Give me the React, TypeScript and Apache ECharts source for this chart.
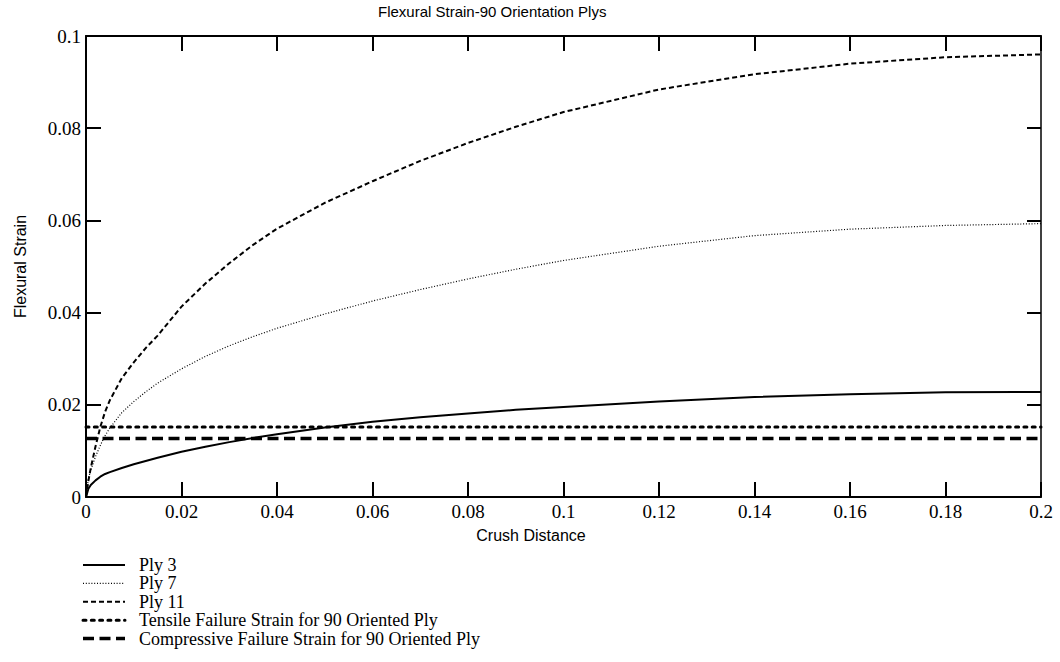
import React, { useEffect, useRef } from "react";
import * as echarts from "echarts";

const crushDistance = [0, 0.0005, 0.001, 0.002, 0.003, 0.004, 0.005, 0.0075, 0.01, 0.0125, 0.015, 0.02, 0.025, 0.03, 0.035, 0.04, 0.05, 0.06, 0.07, 0.08, 0.09, 0.1, 0.12, 0.14, 0.16, 0.18, 0.2];
const ply3 = [0, 0.0018, 0.0026, 0.0036, 0.0044, 0.005, 0.0054, 0.0063, 0.0071, 0.0078, 0.0085, 0.0098, 0.0109, 0.0119, 0.0128, 0.0136, 0.0151, 0.0163, 0.0173, 0.0181, 0.0189, 0.0195, 0.0207, 0.0217, 0.0223, 0.0227, 0.0228];
const ply7 = [0, 0.004, 0.0058, 0.0088, 0.0112, 0.0133, 0.015, 0.0183, 0.0207, 0.0228, 0.0247, 0.0278, 0.0305, 0.0328, 0.0348, 0.0366, 0.0397, 0.0425, 0.045, 0.0473, 0.0494, 0.0513, 0.0544, 0.0567, 0.0581, 0.0589, 0.0593];
const ply11 = [0, 0.0035, 0.0063, 0.011, 0.0152, 0.0185, 0.021, 0.0258, 0.0292, 0.0323, 0.035, 0.0413, 0.0463, 0.0507, 0.0547, 0.0582, 0.0638, 0.0685, 0.0729, 0.0768, 0.0803, 0.0835, 0.0884, 0.0917, 0.094, 0.0954, 0.096];
const tensileFailure = 0.0152;
const compressiveFailure = 0.0127;
const xRange = [0, 0.2];

const titleText = "Flexural Strain-90 Orientation Plys";
const xName = "Crush Distance";
const yName = "Flexural Strain";
const legendLabels = [
  "Ply 3",
  "Ply 7",
  "Ply 11",
  "Tensile Failure Strain for 90 Oriented Ply",
  "Compressive Failure Strain for 90 Oriented Ply",
];

const SERIF = "'Liberation Serif', 'Times New Roman', serif";
const SANS = "'Liberation Sans', Arial, sans-serif";

const styles = [
  { width: 2, type: "solid" as any },
  { width: 1.2, type: [1, 1.8] as any },
  { width: 2, type: [5, 3] as any },
  { width: 3, type: [3, 5.3] as any, cap: "round" },
  { width: 3.5, type: [11, 5.5] as any },
];

const fmt = (v: number) => String(parseFloat(v.toFixed(3)));

export default function App() {
  const ref = useRef<HTMLDivElement>(null);
  useEffect(() => {
    const chart = echarts.init(ref.current!, null, { renderer: "svg" });
    const zip = (ys: number[]) => crushDistance.map((x, i) => [x, ys[i]]);
    const curves = [ply3, ply7, ply11];
    const flats = [tensileFailure, compressiveFailure];

    const axisCommon = {
      type: "value" as const,
      axisLine: { show: true, onZero: false, lineStyle: { color: "#000", width: 2 } },
      axisTick: { show: true, inside: true, length: 15, lineStyle: { color: "#000", width: 2 } },
      splitLine: { show: false },
    };

    const series: any[] = [];
    curves.forEach((ys, i) => {
      series.push({
        name: legendLabels[i],
        type: "line",
        data: zip(ys),
        showSymbol: false,
        smooth: false,
        lineStyle: { color: "#000", width: styles[i].width, type: styles[i].type, join: "round" },
        z: 3,
      });
    });
    flats.forEach((v, j) => {
      const i = j + 3;
      series.push({
        name: legendLabels[i],
        type: "line",
        data: xRange.map((x) => [x, v]),
        showSymbol: false,
        lineStyle: { color: "#000", width: styles[i].width, type: styles[i].type, cap: (styles[i] as any).cap || "butt" },
        z: 2,
      });
    });

    const legendTop = 565;
    const legendStep = 18.4;
    const graphic: any[] = [
      {
        type: "text",
        left: 378,
        top: 4,
        style: { text: titleText, fill: "#000", font: `15px ${SANS}` },
      },
      {
        type: "text",
        x: 531,
        y: 535,
        style: { text: xName, fill: "#000", font: `16px ${SANS}`, align: "center", verticalAlign: "middle" },
      },
    ];
    legendLabels.forEach((label, i) => {
      const y = legendTop + i * legendStep;
      graphic.push({
        type: "line",
        shape: { x1: 83, y1: y, x2: 125, y2: y },
        style: {
          stroke: "#000",
          lineWidth: styles[i].width,
          lineDash: styles[i].type === "solid" ? null : styles[i].type,
          lineCap: (styles[i] as any).cap || "butt",
        },
      });
      graphic.push({
        type: "text",
        x: 139,
        y: y,
        style: { text: label, fill: "#000", font: `18px ${SERIF}`, verticalAlign: "middle", align: "left" },
      });
    });

    chart.setOption({
      animation: false,
      backgroundColor: "#fff",
      grid: { left: 86, top: 36, width: 955, height: 461 },
      xAxis: [
        {
          ...axisCommon,
          position: "bottom",
          min: 0,
          max: 0.2,
          interval: 0.02,
          axisLabel: { color: "#000", fontFamily: SERIF, fontSize: 19, margin: 5, formatter: fmt },
        },
        {
          ...axisCommon,
          position: "top",
          min: 0,
          max: 0.2,
          interval: 0.02,
          axisLabel: { show: false },
        },
      ],
      yAxis: [
        {
          ...axisCommon,
          position: "left",
          min: 0,
          max: 0.1,
          interval: 0.02,
          name: yName,
          nameLocation: "middle",
          nameGap: 66,
          nameRotate: 90,
          nameTextStyle: { color: "#000", fontFamily: SANS, fontSize: 16, verticalAlign: "middle" },
          axisLabel: { color: "#000", fontFamily: SERIF, fontSize: 19, margin: 5, formatter: fmt },
        },
        {
          ...axisCommon,
          position: "right",
          min: 0,
          max: 0.1,
          interval: 0.02,
          axisLine: { show: true, onZero: false, lineStyle: { color: "#000", width: 1.5 } },
          axisTick: { show: true, inside: true, length: 14, lineStyle: { color: "#000", width: 2 } },
          axisLabel: { show: false },
        },
      ],
      series,
      graphic,
    });
    return () => chart.dispose();
  }, []);
  return <div ref={ref} style={{ position: "fixed", left: 0, top: 0, width: 1060, height: 662 }} />;
}
